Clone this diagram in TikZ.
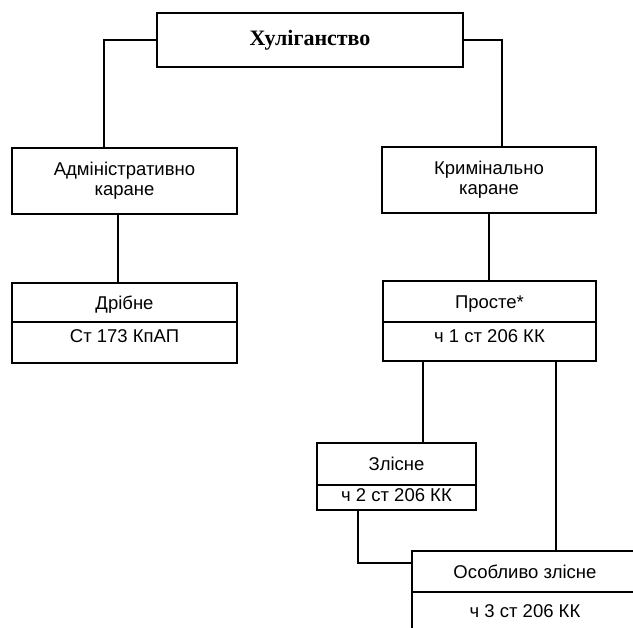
\documentclass[tikz,border=0pt]{standalone}
\usepackage{fontspec}
\setmainfont{Liberation Sans}
\newfontfamily\titlefont{Liberation Serif}
\usetikzlibrary{calc}
\begin{document}
\begin{tikzpicture}[x=1pt,y=-1pt,
  frame/.style={draw, line width=1.4pt, inner sep=0pt, align=center,
    font=\fontsize{18.5}{20}\selectfont},
  part/.style={frame, text height=13.3pt, text depth=0pt},
  raised/.style={text depth=#1},
  link/.style={line width=1.3pt}]
\useasboundingbox (0,0) rectangle (633,628);
\clip (0,0) rectangle (633,628);

% top level
\node[frame, minimum width=306pt, minimum height=54pt,
  font=\titlefont\bfseries\fontsize{22}{24}\selectfont] (title) at (310,40) {Хуліганство};

% second level
\node[frame, minimum width=225pt, minimum height=66pt] (admin) at (124.5,181) {Адміністративно\\каране};
\node[frame, minimum width=214pt, minimum height=66pt] (crim) at (489,180) {Кримінально\\каране};

% two-part boxes
\node[part, minimum width=225pt, minimum height=39pt] (petty) at (124.5,302.5) {Дрібне};
\node[part, raised=14pt, minimum width=225pt, minimum height=41pt] (pettyart) at (124.5,342.5) {Ст 173 КпАП};

\node[part, minimum width=213pt, minimum height=41pt] (simple) at (489.5,301.5) {Просте*};
\node[part, raised=11pt, minimum width=213pt, minimum height=39pt] (simpleart) at (489.5,341.5) {ч 1 ст 206 КК};

\node[part, minimum width=159pt, minimum height=42pt] (malicious) at (396.5,464) {Злісне};
\node[part, raised=5pt, minimum width=159pt, minimum height=25pt] (maliciousart) at (396.5,497.5) {ч 2 ст 206 КК};

% this box runs past the right and bottom edges
\node[part, minimum width=226pt, minimum height=41pt] (grave) at (525,571.5) {Особливо злісне};
\node[part, raised=3pt, minimum width=226pt, minimum height=41pt] (graveart) at (525,612.5) {ч 3 ст 206 КК};

% connectors
\draw[link] (title.west) -| ([xshift=-20.5pt]admin.north);
\draw[link] (title.east) -| ([xshift=13pt]crim.north);
\draw[link] ([xshift=-6.5pt]admin.south) -- ([xshift=-6.5pt]admin.south |- petty.north);
\draw[link] (crim.south) -- (crim.south |- simple.north);
\draw[link] ([xshift=-66.5pt]simpleart.south) -- ([xshift=-66.5pt]simpleart.south |- malicious.north);
\draw[link] ([xshift=66.5pt]simpleart.south) -- ([xshift=66.5pt]simpleart.south |- grave.north);
\draw[link] ([xshift=-38.5pt]maliciousart.south) |- ([yshift=8.5pt]grave.west);
\end{tikzpicture}
\end{document}
